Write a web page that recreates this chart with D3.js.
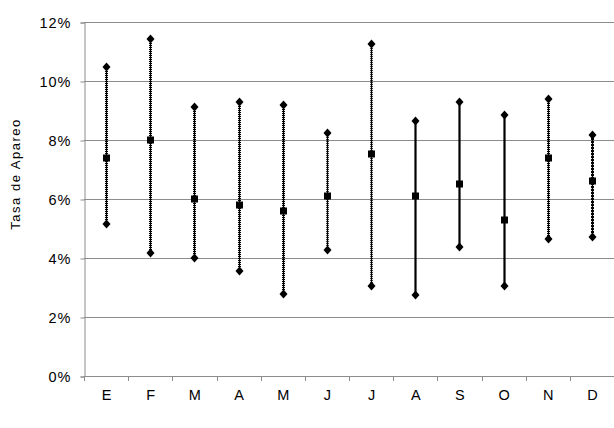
<!DOCTYPE html>
<html><head><meta charset="utf-8">
<script src="https://cdn.jsdelivr.net/npm/d3@7"></script>
<style>body{margin:0;background:#fff;} text{font-family:"Liberation Sans",Arial,sans-serif;}</style>
</head><body>
<svg id="c" width="614" height="428"></svg>
<script>
const months = ["E","F","M","A","M","J","J","A","S","O","N","D"];
const highs = [10.47,11.42,9.12,9.29,9.17,8.24,11.25,8.64,9.29,8.85,9.40,8.17];
const means = [7.39,8.00,6.00,5.80,5.58,6.10,7.53,6.10,6.52,5.29,7.39,6.60];
const lows  = [5.15,4.17,4.00,3.56,2.79,4.28,3.06,2.75,4.38,3.06,4.63,4.72];
const styles = ["dot","dot","dot","dot","dot","thin","thin","solid","solid","solid","dot","dash"];
const yTicks = [0,2,4,6,8,10,12];

const svg = d3.select("#c");
const m = {l:84, r:614, t:22, b:376};
const x = d3.scaleBand().domain(d3.range(12)).range([m.l, m.r]);
const y = d3.scaleLinear().domain([0,12]).range([m.b, m.t]);

// gridlines
svg.append("g").selectAll("line").data(yTicks.filter(d=>d>0)).join("line")
  .attr("x1", m.l).attr("x2", m.r)
  .attr("y1", d=>Math.round(y(d))+0.5).attr("y2", d=>Math.round(y(d))+0.5)
  .attr("stroke","#8c8c8c").attr("stroke-width",1);

// y axis
const ya = svg.append("g").attr("transform",`translate(${m.l+0.5},0.5)`)
  .call(d3.axisLeft(y).tickValues(yTicks).tickFormat(d=>d+"%").tickSize(4).tickPadding(9));
ya.attr("font-size",null).attr("font-family",null);
ya.select(".domain").attr("stroke","#8c8c8c");
ya.selectAll(".tick line").attr("stroke","#8c8c8c");
ya.selectAll(".tick text").style("font-size","14.5px").style("letter-spacing","1px").attr("fill","#000");

// x axis
const xa = svg.append("g").attr("transform",`translate(0.5,${m.b+0.5})`)
  .call(d3.axisBottom(x).tickFormat(i=>months[i]).tickSize(0).tickPadding(13));
xa.attr("font-size",null).attr("font-family",null);
xa.select(".domain").attr("stroke","#8c8c8c").attr("d",`M${m.l},0H${m.r}`);
xa.selectAll(".tick text").style("font-size","14.5px").attr("fill","#000");
// boundary ticks
svg.append("g").selectAll("line").data(d3.range(13)).join("line")
  .attr("x1", i=>Math.round(m.l + i*x.step())+0.5).attr("x2", i=>Math.round(m.l + i*x.step())+0.5)
  .attr("y1", m.b).attr("y2", m.b+5).attr("stroke","#8c8c8c");

// y label
svg.append("text").attr("transform","translate(20,174) rotate(-90)")
  .attr("text-anchor","middle").style("font-size","13px").style("letter-spacing","1.5px")
  .text("Tasa de Apareo");

const cx = i => Math.round(x(i) + x.bandwidth()/2);
const g = svg.append("g");
months.forEach((mo,i)=>{
  const st = styles[i];
  const X = cx(i)+0.5;
  const y1 = Math.round(y(highs[i])), y2 = Math.round(y(lows[i]));
  const ln = (w, dash) => {
    const l = g.append("line").attr("x1",X).attr("x2",X).attr("y1",y1).attr("y2",y2)
      .attr("stroke","#000").attr("stroke-width",w);
    if (dash) l.attr("stroke-dasharray",dash);
  };
  if (st==="solid") {
    ln(2.2);
  } else if (st==="dash") {
    ln(3,"2,1"); ln(1.3);
  } else if (st==="thin") {
    ln(2.4,"1,1"); ln(1.2);
  } else {
    ln(3,"1,1"); ln(1.2);
  }
  const dia = "M0,-4.5L4,0L0,4.5L-4,0Z";
  [highs[i], lows[i]].forEach(v=>{
    g.append("path").attr("d",dia).attr("transform",`translate(${X},${Math.round(y(v))})`).attr("fill","#000");
  });
  const ym = Math.round(y(means[i]));
  g.append("rect").attr("x",X-3.5).attr("y",ym-3.5).attr("width",7).attr("height",7).attr("fill","#000");
});
</script>
</body></html>
